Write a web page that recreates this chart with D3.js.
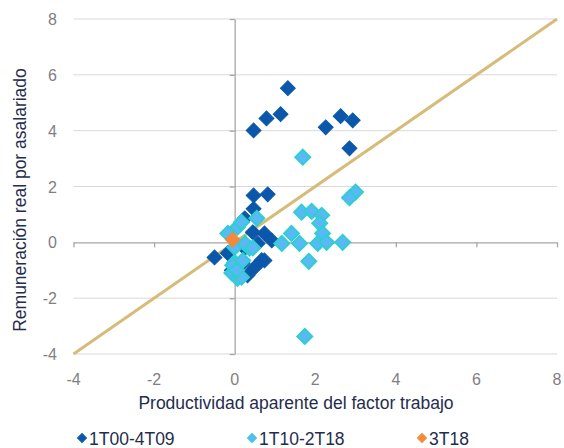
<!DOCTYPE html>
<html>
<head>
<meta charset="utf-8">
<script src="https://cdn.jsdelivr.net/npm/d3@7"></script>
<style>
  body { margin: 0; background: #fff; }
  svg text { font-family: "Liberation Sans", Arial, sans-serif; }
</style>
</head>
<body>
<svg id="chart" width="564" height="448"></svg>
<script>
// puntos [productividad, remuneracion]
var periodo1 = [
  [1.32, 5.52], [0.47, 4.01], [0.79, 4.44], [1.14, 4.59], [2.26, 4.12],
  [2.63, 4.52], [2.93, 4.37], [2.85, 3.37], [0.47, 1.68], [0.82, 1.72],
  [0.47, 1.2], [0.25, 0.86], [0.74, 0.32], [0.92, 0.07], [-0.5, -0.54],
  [-0.17, -0.39], [0.57, -0.04], [0.74, -0.65], [0.5, -0.9], [-0.07, -1.0],
  [0.32, -1.18], [0.25, -0.21], [0.45, 0.36], [0.67, -0.64], [0.2, -0.75]
];
var periodo2 = [
  [1.69, 3.05], [3.0, 1.8], [2.85, 1.6], [1.66, 1.08], [1.91, 1.11],
  [2.16, 0.97], [2.11, 0.68], [1.41, 0.32], [1.17, -0.04], [1.61, -0.04],
  [2.18, 0.32], [2.06, -0.04], [2.28, 0.0], [2.68, 0.0], [1.84, -0.68],
  [1.74, -3.37], [-0.17, 0.32], [0.07, 0.54], [0.17, 0.72], [0.55, 0.86],
  [0.37, -0.21], [0.0, -0.18], [0.0, -0.72], [0.2, -0.65], [-0.07, -1.1],
  [0.07, -1.29], [0.17, -1.25], [0.25, -0.04], [0.45, -0.2], [-0.05, -0.82],
  [0.05, -1.0]
];
var periodo3 = [[-0.05, 0.1]];
var diagonal = [[-4, -4], [8, 8]];
var ticks = [-4, -2, 0, 2, 4, 6, 8];
var nombres = ["1T00-4T09", "1T10-2T18", "3T18"];

var svg = d3.select("#chart");
var pLeft = 73.5, pRight = 557, pTop = 19, pBottom = 354;

var x = d3.scaleLinear().domain([-4, 8]).range([pLeft, pRight]);
var y = d3.scaleLinear().domain([-4, 8]).range([pBottom, pTop]);

// rejilla
svg.selectAll(".grid")
  .data(ticks.filter(function (t) { return t !== 0; }))
  .enter()
  .append("line")
    .attr("x1", pLeft)
    .attr("x2", pRight)
    .attr("y1", function (d) { return y(d); })
    .attr("y2", function (d) { return y(d); })
    .attr("stroke", "#d9d9d9")
    .attr("stroke-width", 1);

// ejes en cero
var ejeX = svg.append("g")
  .attr("transform", "translate(0," + y(0) + ")")
  .call(d3.axisBottom(x).tickValues(ticks).tickSize(5).tickSizeOuter(0).tickFormat(""));
var ejeY = svg.append("g")
  .attr("transform", "translate(" + x(0) + ",0)")
  .call(d3.axisLeft(y).tickValues(ticks).tickSize(5).tickSizeOuter(0).tickFormat(""));
[ejeX, ejeY].forEach(function (g) {
  g.select(".domain").attr("stroke", "#a6a6a6").attr("stroke-width", 1.3);
  g.selectAll(".tick line").attr("stroke", "#a6a6a6").attr("stroke-width", 1.3);
});

// etiquetas de ticks
svg.selectAll(".xlab")
  .data(ticks)
  .enter()
  .append("text")
    .attr("x", function (d) { return x(d); })
    .attr("y", 385)
    .attr("text-anchor", "middle")
    .attr("font-size", 16)
    .attr("fill", "#7f7f7f")
    .text(function (d) { return d; });
svg.selectAll(".ylab")
  .data(ticks)
  .enter()
  .append("text")
    .attr("x", 57)
    .attr("y", function (d) { return y(d) + 6; })
    .attr("text-anchor", "end")
    .attr("font-size", 16)
    .attr("fill", "#7f7f7f")
    .text(function (d) { return d; });

// linea 45 grados
svg.append("path")
  .datum(diagonal)
  .attr("d", d3.line()
    .x(function (d) { return x(d[0]); })
    .y(function (d) { return y(d[1]); }))
  .attr("stroke", "#d6bc78")
  .attr("stroke-width", 3)
  .attr("fill", "none");

var rombo = d3.symbol().type(d3.symbolSquare).size(110);

function dibujar(data, fill, stroke, sw) {
  svg.append("g")
    .selectAll("path")
    .data(data)
    .enter()
    .append("path")
      .attr("d", rombo)
      .attr("transform", function (d) {
        return "translate(" + x(d[0]) + "," + y(d[1]) + ") rotate(45)";
      })
      .attr("fill", fill)
      .attr("stroke", stroke)
      .attr("stroke-width", sw);
}
dibujar(periodo1, "#0b58ab", "#0b58ab", 1);
dibujar(periodo2, "#5bb8f7", "#2fcfd0", 2);
dibujar(periodo3, "#f5883a", "#f5883a", 1);

// titulos
svg.append("text")
  .attr("x", 296)
  .attr("y", 409)
  .attr("text-anchor", "middle")
  .attr("font-size", 17.5)
  .attr("fill", "#1f2d4e")
  .text("Productividad aparente del factor trabajo");
svg.append("text")
  .attr("transform", "translate(26,200) rotate(-90)")
  .attr("text-anchor", "middle")
  .attr("font-size", 17.5)
  .attr("fill", "#1f2d4e")
  .text("Remuneración real por asalariado");

// leyenda
var leyenda = [
  { nombre: nombres[0], fill: "#0b58ab", stroke: "#0b58ab", x: 82 },
  { nombre: nombres[1], fill: "#5bb8f7", stroke: "#2fcfd0", x: 252 },
  { nombre: nombres[2], fill: "#f5883a", stroke: "#f5883a", x: 422 }
];
var item = svg.selectAll(".leg")
  .data(leyenda)
  .enter()
  .append("g")
    .attr("transform", function (d) { return "translate(" + d.x + ",438)"; });
item.append("path")
  .attr("d", d3.symbol().type(d3.symbolSquare).size(40))
  .attr("transform", "rotate(45)")
  .attr("fill", function (d) { return d.fill; })
  .attr("stroke", function (d) { return d.stroke; })
  .attr("stroke-width", 1);
item.append("text")
  .attr("x", 7)
  .attr("y", 6.5)
  .attr("font-size", 17.5)
  .attr("fill", "#1f2d4e")
  .text(function (d) { return d.nombre; });
</script>
</body>
</html>
